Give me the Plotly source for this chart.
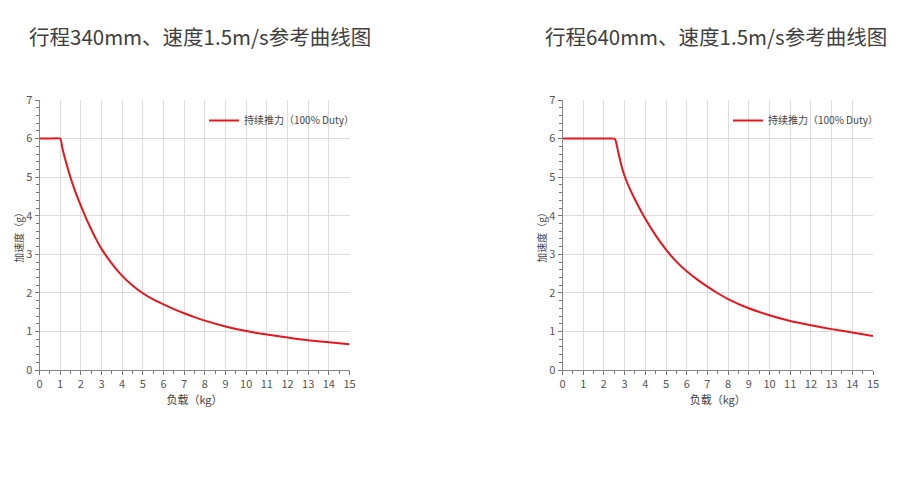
import plotly.graph_objects as go

# ---- data ----
titles = ["行程340mm、速度1.5m/s参考曲线图", "行程640mm、速度1.5m/s参考曲线图"]
series_name = "持续推力（100% Duty）"
x_title = "负载（kg）"
y_title = "加速度（g）"

load_340 = [0, 0.5, 1.0, 1.1, 1.25, 1.5, 1.75, 2.0, 2.25, 2.5, 2.75, 3.0, 3.5, 4.0, 4.5, 5.0,
            5.5, 6.0, 6.5, 7.0, 7.5, 8.0, 9.0, 10.0, 11.0, 12.0, 13.0, 14.0, 15.0]
acc_340 = [6.0, 6.0, 6.0, 5.77, 5.45, 4.99, 4.6, 4.26, 3.94, 3.65, 3.38, 3.14, 2.76, 2.44, 2.19, 1.99,
           1.83, 1.70, 1.58, 1.47, 1.37, 1.28, 1.13, 1.01, 0.92, 0.84, 0.77, 0.72, 0.67]

load_640 = [0, 1.0, 2.0, 2.5, 2.55, 2.6, 2.7, 2.8, 2.9, 3.0, 3.25, 3.5, 4.0, 4.5, 5.0, 5.5, 6.0,
            6.5, 7.0, 7.5, 8.0, 9.0, 10.0, 11.0, 12.0, 13.0, 14.0, 15.0]
acc_640 = [6.0, 6.0, 6.0, 6.0, 5.97, 5.88, 5.63, 5.40, 5.20, 5.03, 4.70, 4.42, 3.92, 3.49, 3.12, 2.81, 2.56,
           2.35, 2.16, 1.99, 1.84, 1.60, 1.42, 1.27, 1.16, 1.06, 0.97, 0.88]

x_ticks = list(range(0, 16))
y_ticks = list(range(0, 8))

FONT = "Noto Sans CJK SC"
RED = "#e8161c"
W, H = 900, 480

fig = go.Figure()

fig.add_trace(go.Scatter(x=load_340, y=acc_340, mode="lines", name=series_name, showlegend=True,
                         line=dict(color=RED, width=2, shape="spline", smoothing=0.6),
                         xaxis="x", yaxis="y", legend="legend"))
fig.add_trace(go.Scatter(x=load_640, y=acc_640, mode="lines", name=series_name, showlegend=True,
                         line=dict(color=RED, width=2, shape="spline", smoothing=0.6),
                         xaxis="x2", yaxis="y2", legend="legend2"))

def xaxis(domain, anchor):
    return dict(domain=domain, anchor=anchor, range=[0, 15], tickmode="array", tickvals=x_ticks,
                automargin=False,
                ticks="outside", ticklen=4, tickcolor="#777", showline=True, linecolor="#888",
                linewidth=1, showgrid=True, gridcolor="#dcdcdc", gridwidth=1, zeroline=False,
                minor=dict(dtick=0.5, ticks="outside", ticklen=3, tickcolor="#777", showgrid=False),
                tickfont=dict(family=FONT, size=11, color="#555"),
                title=dict(text=x_title, font=dict(family=FONT, size=11, color="#444"), standoff=4))

def yaxis(domain, anchor):
    return dict(domain=domain, anchor=anchor, range=[0, 7], tickmode="array", tickvals=y_ticks,
                automargin=False,
                ticks="outside", ticklen=4, tickcolor="#777", showline=True, linecolor="#888",
                linewidth=1, showgrid=True, gridcolor="#dcdcdc", gridwidth=1, zeroline=False,
                minor=dict(dtick=0.2, ticks="outside", ticklen=3, tickcolor="#777", showgrid=False),
                tickfont=dict(family=FONT, size=11, color="#555"),
                title=dict(text=y_title, font=dict(family=FONT, size=10, color="#444"), standoff=0))

ydom = [1 - 370 / H, 1 - 100 / H]
fig.update_layout(
    width=W, height=H, margin=dict(l=0, r=0, t=0, b=0, autoexpand=False),
    paper_bgcolor="white", plot_bgcolor="white",
    font=dict(family=FONT),
    showlegend=True,
    xaxis=xaxis([39.5 / W, 349.5 / W], "y"),
    yaxis=yaxis(ydom, "x"),
    xaxis2=xaxis([562.5 / W, 873 / W], "y2"),
    yaxis2=yaxis(ydom, "x2"),
    legend=dict(x=360 / W, xanchor="right", y=1 - 106 / H, yanchor="top", bgcolor="rgba(0,0,0,0)",
                font=dict(family=FONT, size=10, color="#444"), itemwidth=30, visible=True),
    legend2=dict(x=884 / W, xanchor="right", y=1 - 106 / H, yanchor="top", bgcolor="rgba(0,0,0,0)",
                 font=dict(family=FONT, size=10, color="#444"), itemwidth=30, visible=True),
    annotations=[
        dict(text=titles[0], x=27 / W, y=1 - 36 / H, xref="paper", yref="paper", xanchor="left",
             yanchor="middle", showarrow=False, font=dict(family=FONT, size=20.5, color="#404040")),
        dict(text=titles[1], x=543 / W, y=1 - 36 / H, xref="paper", yref="paper", xanchor="left",
             yanchor="middle", showarrow=False, font=dict(family=FONT, size=20.5, color="#404040")),
    ],
)

fig.write_html("out.html", config={"displayModeBar": False},
               post_script="document.body.style.margin='0';document.body.style.padding='0';")
